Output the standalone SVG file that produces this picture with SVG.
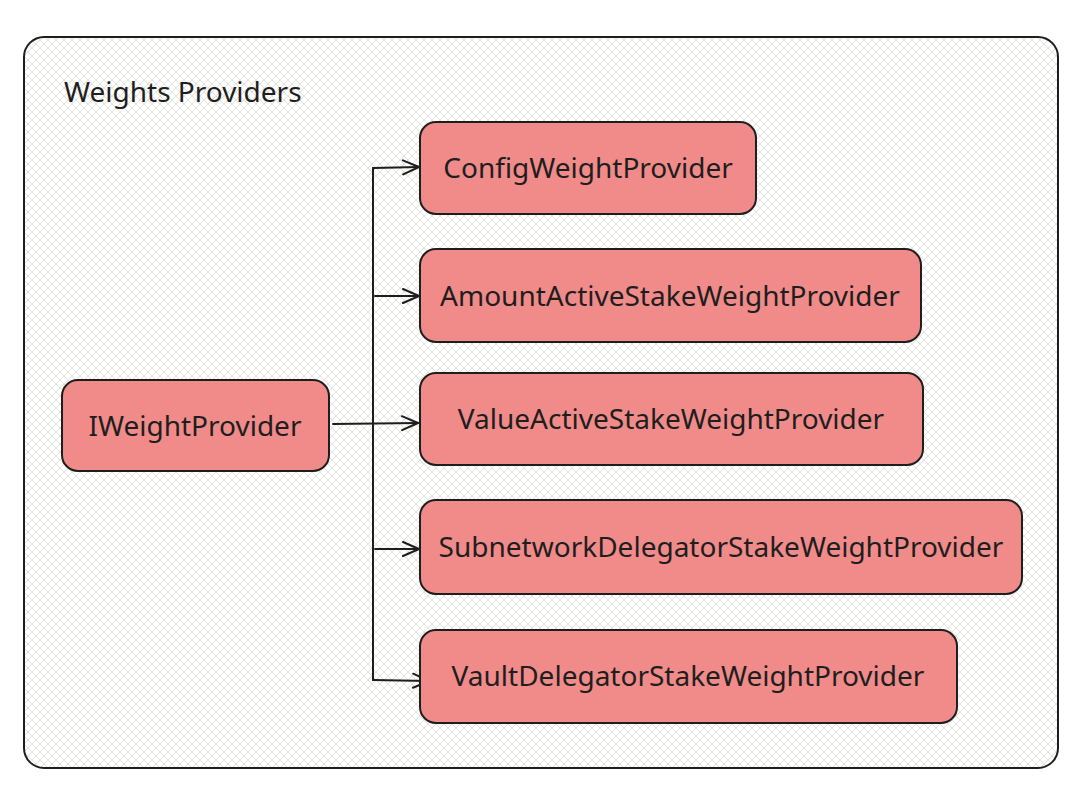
<svg xmlns="http://www.w3.org/2000/svg" width="1090" height="796" viewBox="0 0 1090 796">
<defs>
<pattern id="hatch" patternUnits="userSpaceOnUse" width="8" height="8">
<path d="M-2,2 L2,-2 M0,8 L8,0 M6,10 L10,6" stroke="#e4e2dd" stroke-width="1"/>
<path d="M-2,6 L2,10 M0,0 L8,8 M6,-2 L10,2" stroke="#e4e2dd" stroke-width="1"/>
</pattern>
<marker id="arr" viewBox="0 0 20 20" refX="19" refY="10" markerWidth="20" markerHeight="20" markerUnits="userSpaceOnUse" orient="auto">
<path d="M3,3 L19,10 L3,17" fill="none" stroke="#1e1e1e" stroke-width="2" stroke-linecap="round" stroke-linejoin="round"/>
</marker>
</defs>
<style>
.node rect{fill:#f08b8a;stroke:#1e1e1e;stroke-width:2}
.lbl{font-family:"Noto Sans","Open Sans",sans-serif;font-size:28px;fill:#1e1e1e;text-anchor:middle;dominant-baseline:central}
.conn{fill:none;stroke:#1e1e1e;stroke-width:2;stroke-linecap:round}
</style>
<rect width="1090" height="796" fill="#ffffff"/>
<g id="container">
<rect x="24" y="37" width="1034" height="731" rx="20" fill="url(#hatch)" stroke="#1e1e1e" stroke-width="2"/>
<text x="64" y="102" style="font-family:'Noto Sans','Open Sans',sans-serif;font-size:28px;fill:#1e1e1e">Weights Providers</text>
</g>
<g id="connectors">
<path class="conn" d="M373,168 L373,680"/>
<path class="conn" d="M333,424 L418,423" marker-end="url(#arr)"/>
<path class="conn" d="M373,168 L419,167" marker-end="url(#arr)"/>
<path class="conn" d="M375,296 L419,296" marker-end="url(#arr)"/>
<path class="conn" d="M375,549 L419,549" marker-end="url(#arr)"/>
<path class="conn" d="M373,680 L429,681" marker-end="url(#arr)"/>
</g>
<g id="IWeightProvider" class="node">
<rect x="62" y="380" width="267" height="91" rx="16"/>
<text class="lbl" x="195" y="425">IWeightProvider</text>
</g>
<g id="ConfigWeightProvider" class="node">
<rect x="420" y="122" width="336" height="92" rx="16"/>
<text class="lbl" x="588" y="167">ConfigWeightProvider</text>
</g>
<g id="AmountActiveStakeWeightProvider" class="node">
<rect x="420" y="249" width="501" height="93" rx="16"/>
<text class="lbl" x="670" y="295">AmountActiveStakeWeightProvider</text>
</g>
<g id="ValueActiveStakeWeightProvider" class="node">
<rect x="420" y="373" width="503" height="92" rx="16"/>
<text class="lbl" x="671" y="418">ValueActiveStakeWeightProvider</text>
</g>
<g id="SubnetworkDelegatorStakeWeightProvider" class="node">
<rect x="420" y="500" width="602" height="94" rx="16"/>
<text class="lbl" x="721" y="546">SubnetworkDelegatorStakeWeightProvider</text>
</g>
<g id="VaultDelegatorStakeWeightProvider" class="node">
<rect x="420" y="630" width="537" height="93" rx="16"/>
<text class="lbl" x="688" y="675">VaultDelegatorStakeWeightProvider</text>
</g>
</svg>
